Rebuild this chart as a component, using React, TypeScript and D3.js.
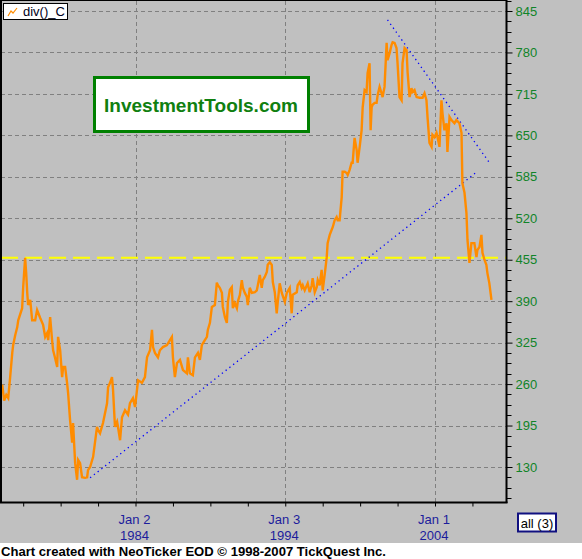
import React, { useEffect, useRef } from 'react'
import * as d3 from 'd3'

// decimal years and index values
const years = [
  1975.1, 1975.23, 1975.37, 1975.5, 1975.63, 1975.77, 1975.83, 1975.97, 1976.1, 1976.17,
  1976.43, 1976.5, 1976.63, 1976.7, 1976.77, 1976.83, 1976.97, 1977.1, 1977.3, 1977.43,
  1977.63, 1977.83, 1977.97, 1978.1, 1978.17, 1978.3, 1978.43, 1978.5, 1978.63, 1978.77,
  1978.83, 1978.97, 1979.1, 1979.17, 1979.3, 1979.43, 1979.5, 1979.63, 1979.77, 1979.83,
  1979.97, 1980.1, 1980.17, 1980.3, 1980.43, 1980.63, 1980.77, 1980.83, 1980.97, 1981.17,
  1981.43, 1981.5, 1981.63, 1981.83, 1982.1, 1982.17, 1982.3, 1982.43, 1982.5, 1982.63,
  1982.77, 1982.83, 1982.97, 1983.1, 1983.3, 1983.5, 1983.63, 1983.83, 1983.97, 1984.17,
  1984.43, 1984.63, 1984.77, 1984.97, 1985.1, 1985.17, 1985.3, 1985.5, 1985.63, 1985.83,
  1986.1, 1986.3, 1986.43, 1986.5, 1986.63, 1986.77, 1986.97, 1987.17, 1987.43, 1987.5,
  1987.63, 1987.83, 1987.97, 1988.17, 1988.3, 1988.43, 1988.5, 1988.63, 1988.77, 1988.83,
  1988.97, 1989.1, 1989.3, 1989.43, 1989.5, 1989.63, 1989.77, 1989.83, 1989.97, 1990.1,
  1990.17, 1990.3, 1990.43, 1990.5, 1990.63, 1990.77, 1990.83, 1990.97, 1991.1, 1991.17,
  1991.3, 1991.43, 1991.5, 1991.63, 1991.77, 1991.97, 1992.1, 1992.17, 1992.3, 1992.43,
  1992.5, 1992.63, 1992.77, 1992.83, 1992.97, 1993.1, 1993.17, 1993.3, 1993.43, 1993.5,
  1993.63, 1993.77, 1993.97, 1994.1, 1994.3, 1994.43, 1994.5, 1994.77, 1994.83, 1994.97,
  1995.1, 1995.17, 1995.3, 1995.5, 1995.63, 1995.77, 1995.83, 1995.97, 1996.1, 1996.17,
  1996.3, 1996.43, 1996.5, 1996.63, 1996.77, 1996.83, 1996.97, 1997.1, 1997.17, 1997.3,
  1997.43, 1997.5, 1997.63, 1997.77, 1997.83, 1997.97, 1998.1, 1998.17, 1998.3, 1998.43,
  1998.5, 1998.63, 1998.77, 1998.83, 1998.97, 1999.1, 1999.17, 1999.3, 1999.43, 1999.5,
  1999.63, 1999.7, 1999.77, 1999.83, 1999.97, 2000.1, 2000.17, 2000.3, 2000.43, 2000.5,
  2000.63, 2000.77, 2000.83, 2000.97, 2001.1, 2001.17, 2001.3, 2001.43, 2001.5, 2001.63,
  2001.77, 2001.83, 2001.97, 2002.1, 2002.17, 2002.3, 2002.43, 2002.5, 2002.63, 2002.77,
  2002.97, 2003.17, 2003.3, 2003.43, 2003.5, 2003.63, 2003.77, 2003.83, 2003.97, 2004.1,
  2004.17, 2004.3, 2004.43, 2004.5, 2004.63, 2004.77, 2004.83, 2004.97, 2005.1, 2005.3,
  2005.43, 2005.63, 2005.77, 2005.83, 2005.97, 2006.1, 2006.17, 2006.3, 2006.43, 2006.63,
  2006.77, 2006.83, 2006.97, 2007.1, 2007.17, 2007.3, 2007.43, 2007.5, 2007.63, 2007.77,
]
const values = [
  259, 234, 243, 238, 271, 309, 321, 337, 349, 360,
  379, 412, 458, 434, 403, 384, 392, 360, 360, 376,
  364, 353, 334, 340, 329, 365, 329, 313, 301, 287,
  334, 313, 271, 287, 287, 262, 246, 204, 168, 199,
  136, 110, 141, 136, 114, 113, 114, 125, 130, 146,
  193, 188, 183, 199, 230, 255, 262, 271, 251, 193,
  201, 193, 172, 208, 219, 212, 230, 238, 224, 266,
  262, 271, 302, 313, 345, 318, 309, 302, 313, 318,
  321, 329, 334, 302, 271, 293, 298, 282, 277, 302,
  277, 274, 302, 309, 298, 321, 324, 329, 334, 345,
  356, 381, 384, 419, 415, 411, 403, 381, 365, 356,
  389, 408, 412, 379, 387, 379, 389, 400, 423, 411,
  403, 397, 384, 411, 403, 404, 407, 415, 431, 411,
  423, 428, 436, 447, 451, 447, 420, 404, 371, 389,
  418, 403, 389, 403, 411, 371, 400, 404, 415, 420,
  411, 415, 407, 418, 404, 415, 426, 404, 412, 423,
  415, 439, 407, 431, 459, 481, 494, 502, 506, 517,
  522, 517, 517, 553, 593, 593, 591, 588, 596, 607,
  607, 646, 627, 607, 632, 658, 694, 721, 718, 748,
  763, 658, 694, 698, 701, 701, 713, 726, 716, 710,
  726, 795, 768, 779, 792, 796, 795, 787, 763, 710,
  705, 763, 787, 784, 749, 710, 724, 718, 721, 710,
  709, 709, 716, 705, 679, 638, 632, 651, 647, 654,
  647, 632, 705, 685, 658, 669, 624, 679, 674, 669,
  674, 669, 654, 575, 560, 528, 486, 450, 481, 481,
  459, 470, 475, 494, 466, 455, 447, 434, 418, 392,
]

// trend lines drawn on the chart
const upTrendYears = [1980.97, 2006.7]
const upTrendValues = [113, 591]
const downTrendYears = [2000.83, 2007.7]
const downTrendValues = [831, 605]
const levelValue = 458

const yTicks = [130, 195, 260, 325, 390, 455, 520, 585, 650, 715, 780, 845]
const xLabelYears = [1984, 1994, 2004]
const xLabelDays = ['Jan 2', 'Jan 3', 'Jan 1']

const W = 582
const H = 559
const FONT = 'Arial, "Liberation Sans", sans-serif'

const Chart: React.FC = () => {
  const svgRef = useRef<SVGSVGElement | null>(null)

  useEffect(() => {
    if (!svgRef.current) return
    const svg = d3.select(svgRef.current)
    svg.selectAll('*').remove()

    const plot = { left: 1, top: 1, right: 507, bottom: 503 }

    const x = d3.scaleLinear().domain([1984, 2004]).range([135.5, 435])
    const y = d3.scaleLinear().domain([130, 845]).range([467, 11])

    svg.append('rect').attr('width', W).attr('height', H).attr('fill', '#c0c0c0')
    svg.append('rect').attr('x', 0).attr('y', 543).attr('width', W).attr('height', H - 543).attr('fill', '#ffffff')

    svg.append('clipPath').attr('id', 'plotclip')
      .append('rect')
      .attr('x', plot.left).attr('y', plot.top)
      .attr('width', plot.right - plot.left).attr('height', plot.bottom - plot.top)

    // grid
    const grid = svg.append('g').attr('stroke', '#808080').attr('stroke-dasharray', '4,3').attr('stroke-width', 1)
    grid.selectAll('line.h').data(yTicks).join('line')
      .attr('x1', plot.left).attr('x2', plot.right - 1)
      .attr('y1', d => Math.round(y(d)) + 0.5).attr('y2', d => Math.round(y(d)) + 0.5)
    grid.selectAll('line.v').data(xLabelYears).join('line')
      .attr('y1', plot.top).attr('y2', plot.bottom - 1)
      .attr('x1', d => Math.round(x(d)) + 0.5).attr('x2', d => Math.round(x(d)) + 0.5)

    const body = svg.append('g').attr('clip-path', 'url(#plotclip)')

    // yellow level
    body.append('line')
      .attr('x1', plot.left).attr('x2', plot.right)
      .attr('y1', y(levelValue)).attr('y2', y(levelValue))
      .attr('stroke', '#ffff00').attr('stroke-width', 2).attr('stroke-dasharray', '17,7')

    const trend = (ys: number[], vs: number[]) =>
      body.append('line')
        .attr('x1', x(ys[0])).attr('y1', y(vs[0]))
        .attr('x2', x(ys[1])).attr('y2', y(vs[1]))
        .attr('stroke', '#0000ff').attr('stroke-width', 1.3).attr('stroke-dasharray', '1.3,3.5')
    trend(upTrendYears, upTrendValues)
    trend(downTrendYears, downTrendValues)

    const line = d3.line<number>()
      .x((_, i) => x(years[i]))
      .y(d => y(d))
    body.append('path')
      .datum(values)
      .attr('d', line)
      .attr('fill', 'none')
      .attr('stroke', '#ff8c00')
      .attr('stroke-width', 2.4)
      .attr('stroke-linejoin', 'miter')

    // frame
    svg.append('line').attr('x1', 1).attr('x2', 1).attr('y1', 0).attr('y2', plot.bottom).attr('stroke', '#000').attr('stroke-width', 2)
    svg.append('line').attr('x1', 0).attr('x2', plot.right).attr('y1', 0.5).attr('y2', 0.5).attr('stroke', '#000').attr('stroke-width', 1)

    // right axis
    const yAxis = d3.axisRight(y)
      .tickValues(yTicks)
      .tickSize(6)
      .tickPadding(3)
      .tickSizeOuter(0)
    const ya = svg.append('g').attr('transform', `translate(${plot.right - 0.5},0)`).call(yAxis)
    ya.select('.domain').attr('stroke', '#000').attr('stroke-width', 2).attr('d', `M0,0V${plot.bottom}`)
    ya.selectAll('.tick line').attr('stroke', '#000')
    ya.selectAll('.tick text')
      .attr('fill', '#108428')
      .style('font', `13px ${FONT}`)
    const minorY = d3.range(130 - 65, 845 + 65, 16.25).filter(v => !yTicks.includes(v))
    ya.append('g').selectAll('line').data(minorY).join('line')
      .attr('x1', 0).attr('x2', 5)
      .attr('y1', d => Math.round(y(d)) + 0.5).attr('y2', d => Math.round(y(d)) + 0.5)
      .attr('stroke', '#000')
      .filter(d => y(d) < 0 || y(d) > plot.bottom).remove()

    // bottom axis
    const xTicks = d3.range(1976.5, 2008, 2.5)
    const xAxis = d3.axisBottom(x).tickValues(xTicks).tickSize(4).tickFormat(() => '').tickSizeOuter(0)
    const xa = svg.append('g').attr('transform', `translate(0,${plot.bottom - 0.5})`).call(xAxis)
    xa.select('.domain').attr('stroke', '#000').attr('stroke-width', 2).attr('d', `M0,0H${plot.right + 0.5}`)
    xa.selectAll('.tick line').attr('stroke', '#000')

    const labels = svg.append('g')
      .attr('text-anchor', 'middle')
      .attr('fill', '#1c1c9c')
      .style('font', `13px ${FONT}`)
    labels.selectAll('text.day').data(xLabelYears).join('text')
      .attr('x', d => x(d) - 1).attr('y', 524)
      .text((_, i) => xLabelDays[i])
    labels.selectAll('text.yr').data(xLabelYears).join('text')
      .attr('x', d => x(d) - 1).attr('y', 540)
      .text(d => String(d))

    // legend
    const lg = svg.append('g')
    lg.append('rect').attr('x', 3.5).attr('y', 3.5).attr('width', 64).attr('height', 16)
      .attr('fill', '#fff').attr('stroke', '#000')
    lg.append('polyline').attr('points', '8,16 11,11 13,13 17,8')
      .attr('fill', 'none').attr('stroke', '#ff8c00').attr('stroke-width', 1.2)
    lg.append('text').attr('x', 23).attr('y', 16).text('div()_C')
      .attr('fill', '#000020').style('font', `13px ${FONT}`)

    // logo
    svg.append('rect').attr('x', 94.5).attr('y', 77.5).attr('width', 214).attr('height', 54)
      .attr('fill', '#fff').attr('stroke', '#008000').attr('stroke-width', 3)
    svg.append('text').attr('x', 201).attr('y', 112).attr('text-anchor', 'middle')
      .attr('fill', '#108010')
      .style('font', `bold 19px ${FONT}`)
      .text('InvestmentTools.com')

    // all (3) button
    svg.append('rect').attr('x', 518).attr('y', 513.5).attr('width', 38).attr('height', 18)
      .attr('fill', '#fff').attr('stroke', '#101080').attr('stroke-width', 2)
    svg.append('text').attr('x', 537).attr('y', 527.5).attr('text-anchor', 'middle')
      .attr('fill', '#000').style('font', `13px ${FONT}`).text('all (3)')

    // footer
    svg.append('text').attr('x', 1).attr('y', 555.5)
      .attr('fill', '#000').style('font', `bold 13px ${FONT}`)
      .attr('textLength', 385).attr('lengthAdjust', 'spacingAndGlyphs')
      .text('Chart created with NeoTicker EOD © 1998-2007 TickQuest Inc.')
  }, [])

  return <svg ref={svgRef} width={W} height={H} style={{ position: 'absolute', left: 0, top: 0, display: 'block' }} />
}

export default function App() {
  return <Chart />
}
